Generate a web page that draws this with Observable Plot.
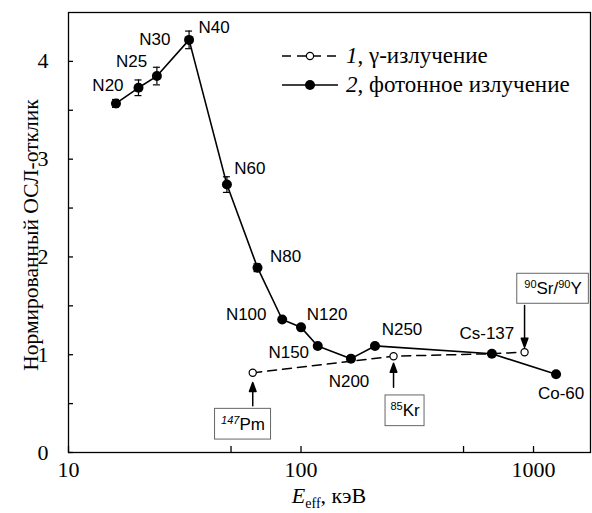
<!DOCTYPE html>
<html><head><meta charset="utf-8">
<script src="https://cdn.jsdelivr.net/npm/d3@7"></script>
<script src="https://cdn.jsdelivr.net/npm/@observablehq/plot@0.6"></script>
<style>body{margin:0;background:#fff} svg{display:block}</style>
</head><body><div id="chart"></div>
<script>
// ---- data ----
const photonNames = ["N20","N25","N30","N40","N60","N80","N100","N120","N150","N200","N250","Cs-137","Co-60"];
const photonEnergy = [16,20,24,33,48,65,83,100,118,164,208,662,1250];
const photonResponse = [3.57,3.73,3.85,4.22,2.74,1.89,1.36,1.28,1.09,0.96,1.09,1.01,0.80];
const photonError = [0.04,0.08,0.09,0.09,0.08,0.04,0,0,0,0,0,0,0];
const gammaNames = ["147Pm","85Kr","Cs-137","90Sr/90Y"];
const gammaEnergy = [62,250,662,915];
const gammaResponse = [0.815,0.985,1.01,1.026];
const xTicks = [10,50,100,500,1000];
const xTickLabels = ["10","","100","","1000"];
const yTicks = [0,0.5,1,1.5,2,2.5,3,3.5,4];
const yTickLabels = ["0","","1","","2","","3","","4"];
const legendLabels = [["1", ", γ-излучение"], ["2", ", фотонное излучение"]];
const xLabel = ["E", "eff", ", кэВ"];
const yLabel = "Нормированный ОСЛ-отклик";
const annotated = ["147Pm","85Kr","90Sr/90Y"];
const italicMass = ["147Pm"];

// ---- layout / style (pixel offsets) ----
const labelOffsets = {N20:[-8,-18], N25:[-7,-26], N30:[-2,-37], N40:[25,-12], N60:[23,-16], N80:[28,-11],
  N100:[-36,-5], N120:[26,-13], N150:[-29,7], N200:[-2,23], N250:[27,-16], "Cs-137":[-5,-20], "Co-60":[5,19]};
const annotLayout = {
  "147Pm": {box:[-9.7, 51.4, 56, 30.7], arrow:[33, 23.3, 0]},
  "85Kr": {box:[11.5, 54.6, 39, 30.7], arrow:[31, 24, 0]},
  "90Sr/90Y": {box:[28.5, -63.4, 71.6, 30], arrow:[-46.7, 41.7, 180]}
};
const SERIF = "Liberation Serif, Times New Roman, serif";
const SANS = "Liberation Sans, Arial, sans-serif";

const photon = photonNames.map((name, i) => ({name, x: photonEnergy[i], y: photonResponse[i], e: photonError[i]}));
const gamma = gammaNames.map((name, i) => ({name, x: gammaEnergy[i], y: gammaResponse[i]}));
const errs = photon.filter(d => d.e > 0);

const arrowShape = {
  draw(ctx, l) {
    const h = 9, w = 3.3;
    ctx.moveTo(0, 0); ctx.lineTo(0, -l + h);
    ctx.moveTo(0, -l); ctx.lineTo(-w, -l + h); ctx.lineTo(w, -l + h); ctx.closePath();
  }
};

const labelMarks = photon.map(d => Plot.text([d], {
  x: "x", y: "y", text: "name", dx: labelOffsets[d.name][0], dy: labelOffsets[d.name][1],
  fontFamily: SANS, fontSize: 17, fill: "black"
}));

const annotMarks = [];
for (const name of annotated) {
  const d = gamma.find(g => g.name === name);
  const L = annotLayout[name];
  const [bx, by, bw, bh] = L.box;
  const [as, al, ar] = L.arrow;
  annotMarks.push(
    Plot.vector([d], {x: "x", y: "y", length: al, rotate: ar, anchor: "start", shape: arrowShape,
      dy: as, stroke: "black", fill: "black", strokeWidth: 1.5}),
    Plot.rect([d], {x1: "x", x2: "x", y1: "y", y2: "y", insetLeft: -bw/2, insetRight: -bw/2,
      insetTop: -bh/2, insetBottom: -bh/2, dx: bx, dy: by, fill: "white", stroke: "#666", strokeWidth: 1}),
    Plot.text([d], {x: "x", y: "y", text: "name", dx: bx, dy: by, fontFamily: SANS, fontSize: 17,
      fill: "black"})
  );
}

const svg = Plot.plot({
  width: 592, height: 513,
  marginLeft: 68, marginRight: 2, marginTop: 12, marginBottom: 61,
  style: {fontFamily: SERIF, fontSize: "22px", color: "black", background: "white", overflow: "visible"},
  x: {type: "log", domain: [10, 1758]},
  y: {domain: [0, 4.5]},
  marks: [
    Plot.axisX({ticks: xTicks, tickFormat: d => xTickLabels[xTicks.indexOf(d)], tickSize: 6, dy: -6,
      tickPadding: 9, label: null, strokeWidth: 1.3}),
    Plot.axisY({ticks: yTicks, tickFormat: d => yTickLabels[yTicks.indexOf(d)], tickSize: 5, dx: 5,
      tickPadding: 20, label: null, strokeWidth: 1.3}),
    Plot.frame({stroke: "black", strokeWidth: 1.3}),
    Plot.line(gamma, {x: "x", y: "y", stroke: "black", strokeWidth: 1.5, strokeDasharray: "9,6"}),
    Plot.line(photon, {x: "x", y: "y", stroke: "black", strokeWidth: 1.6}),
    Plot.ruleX(errs, {x: "x", y1: d => d.y - d.e, y2: d => d.y + d.e, stroke: "black", strokeWidth: 1.2}),
    Plot.ruleY(errs, {y: d => d.y + d.e, x1: "x", x2: "x", insetLeft: -3.5, insetRight: -3.5, stroke: "black", strokeWidth: 1.2}),
    Plot.ruleY(errs, {y: d => d.y - d.e, x1: "x", x2: "x", insetLeft: -3.5, insetRight: -3.5, stroke: "black", strokeWidth: 1.2}),
    Plot.dot(gamma.filter(d => !photonNames.includes(d.name)), {x: "x", y: "y", r: 3.6, fill: "white", stroke: "black", strokeWidth: 1.2}),
    Plot.dot(photon, {x: "x", y: "y", r: 5, fill: "black"}),
    ...labelMarks,
    ...annotMarks
  ]
});

const S = d3.select(svg);
// isotope superscripts
S.selectAll("text").filter(function() { return annotated.includes(this.textContent); }).each(function() {
  const t = d3.select(this);
  const name = this.textContent;
  t.text(null);
  const parts = [...name.matchAll(/(\d+)([^\d]+)/g)];
  for (const p of parts) {
    t.append("tspan").attr("font-size", 11).attr("dy", -6)
      .attr("font-style", italicMass.includes(name) ? "italic" : null).text(p[1]);
    t.append("tspan").attr("font-size", 17).attr("dy", 6).text(p[2]);
  }
});

// legend
const legendRows = [{y: 56, dash: "9,6", open: true}, {y: 85, dash: null, open: false}];
legendRows.forEach((r, i) => {
  const g = S.append("g");
  g.append("line").attr("x1", 282).attr("x2", 338).attr("y1", r.y).attr("y2", r.y)
    .attr("stroke", "black").attr("stroke-width", 1.6).attr("stroke-dasharray", r.dash);
  g.append("circle").attr("cx", 310).attr("cy", r.y).attr("r", r.open ? 3.6 : 5)
    .attr("fill", r.open ? "white" : "black").attr("stroke", "black").attr("stroke-width", r.open ? 1.2 : 0);
  const t = g.append("text").attr("x", 346).attr("y", r.y + 7).attr("text-anchor", "start")
    .attr("font-family", SERIF).attr("font-size", 23);
  t.append("tspan").attr("font-style", "italic").text(legendLabels[i][0]);
  t.append("tspan").text(legendLabels[i][1]);
});
// x label
const xt = S.append("text").attr("x", 329).attr("y", 503).attr("text-anchor", "middle")
  .attr("font-family", SERIF).attr("font-size", 22);
xt.append("tspan").attr("font-style", "italic").text(xLabel[0]);
xt.append("tspan").attr("font-size", 14).attr("dy", 5).text(xLabel[1]);
xt.append("tspan").attr("dy", -5).text(xLabel[2]);
// y label
S.append("text").attr("transform", "translate(38,235) rotate(-90)").attr("text-anchor", "middle")
  .attr("font-family", SERIF).attr("font-size", 21.5).text(yLabel);

document.getElementById("chart").appendChild(svg);
</script>
</body></html>
